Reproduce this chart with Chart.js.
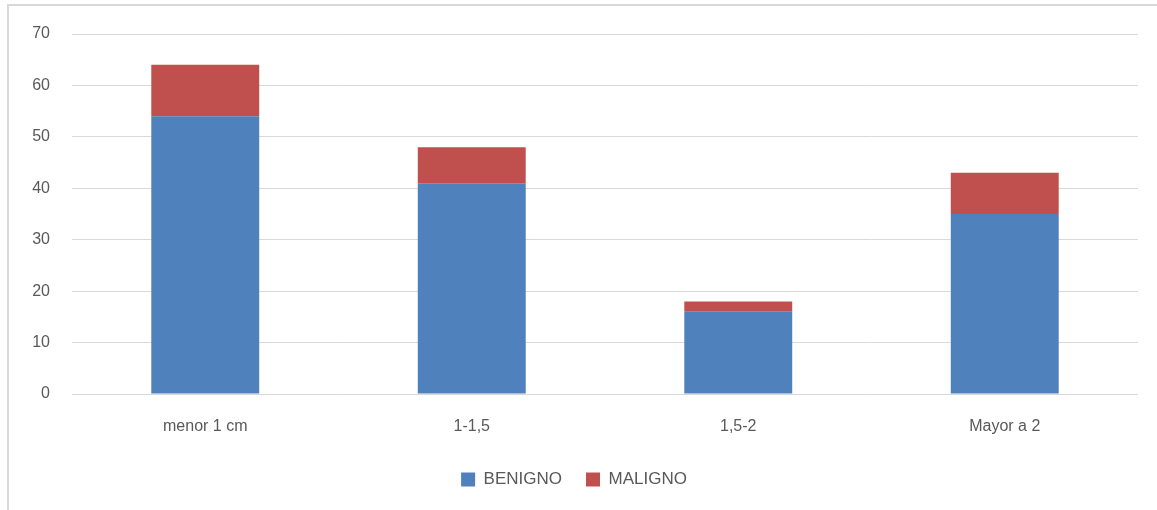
<!DOCTYPE html>
<html lang="es">
<head>
    <meta charset="UTF-8">
    <title>Benigno vs Maligno por tamaño</title>
    <style>
        html, body { margin: 0; padding: 0; background: #fff; }
        .frame {
            position: absolute; left: 7px; top: 4px; width: 1160px; height: 520px;
            border-left: 2px solid #d9d9d9; border-top: 2px solid #d9d9d9;
        }
        .wrap { position: absolute; left: 0; top: 0; width: 1157px; height: 510px; }
    </style>
</head>
<body>
    <div class="frame"></div>
    <div class="wrap"><canvas id="grafico"></canvas></div>

    <script src="https://cdn.jsdelivr.net/npm/chart.js"></script>
    <script>
        // Datos
        var categorias = ['menor 1 cm', '1-1,5', '1,5-2', 'Mayor a 2'];
        var benigno = [54, 41, 16, 35];
        var maligno = [10, 7, 2, 8];
        var yMin = 0, yMax = 70, yPaso = 10;

        Chart.defaults.font.family = "'Liberation Sans', Arial, sans-serif";
        Chart.defaults.font.size = 16;
        Chart.defaults.color = '#595959';

        var ctx = document.getElementById('grafico').getContext('2d');
        new Chart(ctx, {
            type: 'bar',
            data: {
                labels: categorias,
                datasets: [{
                    label: 'BENIGNO',
                    data: benigno,
                    backgroundColor: '#4f81bd',
                    borderWidth: 0
                }, {
                    label: 'MALIGNO',
                    data: maligno,
                    backgroundColor: '#c0504d',
                    borderWidth: 0
                }]
            },
            options: {
                responsive: true,
                maintainAspectRatio: false,
                animation: false,
                layout: { padding: { left: 10, right: 19, top: 34, bottom: 12 } },
                datasets: { bar: { categoryPercentage: 1, barPercentage: 0.405 } },
                scales: {
                    x: {
                        stacked: true,
                        grid: { display: false },
                        border: { display: false },
                        ticks: { padding: 15 },
                        afterFit: function (s) { s.height = 53; }
                    },
                    y: {
                        stacked: true,
                        min: yMin, max: yMax,
                        ticks: { stepSize: yPaso, padding: 22 },
                        grid: { color: '#d9d9d9', lineWidth: 1, drawTicks: false },
                        border: { display: false },
                        afterFit: function (s) { s.width = 62; }
                    }
                },
                plugins: {
                    legend: {
                        position: 'bottom',
                        labels: { boxWidth: 14, boxHeight: 14, padding: 24, font: { size: 17 } }
                    },
                    tooltip: { enabled: false }
                }
            }
        });
    </script>
</body>
</html>
